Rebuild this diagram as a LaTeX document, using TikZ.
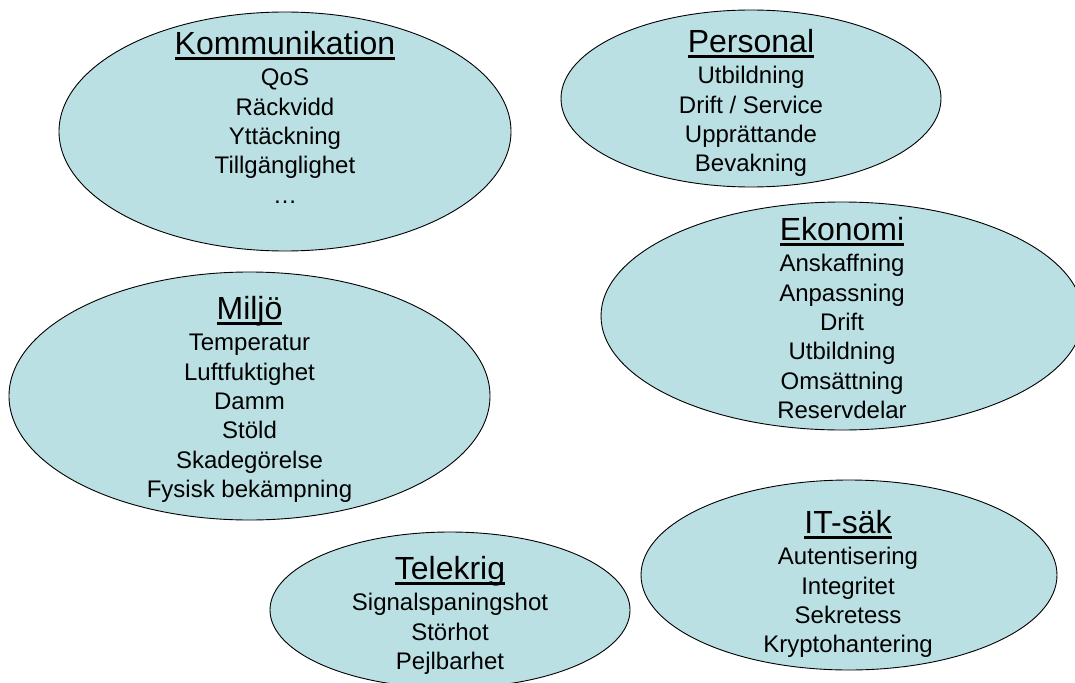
\documentclass[tikz,border=0pt]{standalone}
\usepackage{fontspec}
\setmainfont{Liberation Sans}
\usetikzlibrary{shapes.geometric}
\definecolor{bubblefill}{RGB}{187,224,228}
\tikzset{
  bubble/.style={ellipse, draw=black, fill=bubblefill, line width=0.9pt, inner sep=0pt},
  items/.style={align=center, anchor=north, inner sep=0pt, font=\fontsize{24}{29.4}\selectfont}
}
\newcommand{\rubrik}[1]{{\fontsize{32}{32}\selectfont\rule{0pt}{25pt}\setbox0\hbox{#1}\rlap{\rule[-5.5pt]{\wd0}{2.3pt}}\box0}}

\begin{document}
\begin{tikzpicture}[x=1pt,y=-1pt]
  \useasboundingbox (0,0) rectangle (1075,682);
  \clip (0,0) rectangle (1075,682);

  % the six areas
  \node[bubble, minimum width=452pt, minimum height=239pt] (komm)  at (285,131.5) {};
  \node[bubble, minimum width=380pt, minimum height=177pt] (pers)  at (751,98.5)  {};
  \node[bubble, minimum width=482pt, minimum height=228pt] (ekon)  at (842,316)   {};
  \node[bubble, minimum width=481pt, minimum height=248pt] (miljo) at (249.5,396) {};
  \node[bubble, minimum width=360pt, minimum height=156pt] (tele)  at (450,610)   {};
  \node[bubble, minimum width=416pt, minimum height=190pt] (itsak) at (849,575)   {};

  % headings and lists
  \node[items] (kommtext) at (285,29) {\rubrik{Kommunikation}\\[2pt]
    QoS\\ Räckvidd\\ Yttäckning\\ Tillgänglighet\\ …};
  \node[items] (perstext) at (751,27) {\rubrik{Personal}\\[2pt]
    Utbildning\\ Drift / Service\\ Upprättande\\ Bevakning};
  \node[items] (ekontext) at (842,215) {\rubrik{Ekonomi}\\[2pt]
    Anskaffning\\ Anpassning\\ Drift\\ Utbildning\\ Omsättning\\ Reservdelar};
  \node[items] (miljotext) at (249.5,294) {\rubrik{Miljö}\\[2pt]
    Temperatur\\ Luftfuktighet\\ Damm\\ Stöld\\ Skadegörelse\\ Fysisk bekämpning};
  \node[items] (teletext) at (450,554) {\rubrik{Telekrig}\\[2pt]
    Signalspaningshot\\ Störhot\\ Pejlbarhet};
  \node[items] (itsaktext) at (848,508) {\rubrik{IT-säk}\\[2pt]
    Autentisering\\ Integritet\\ Sekretess\\ Kryptohantering};
\end{tikzpicture}
\end{document}
